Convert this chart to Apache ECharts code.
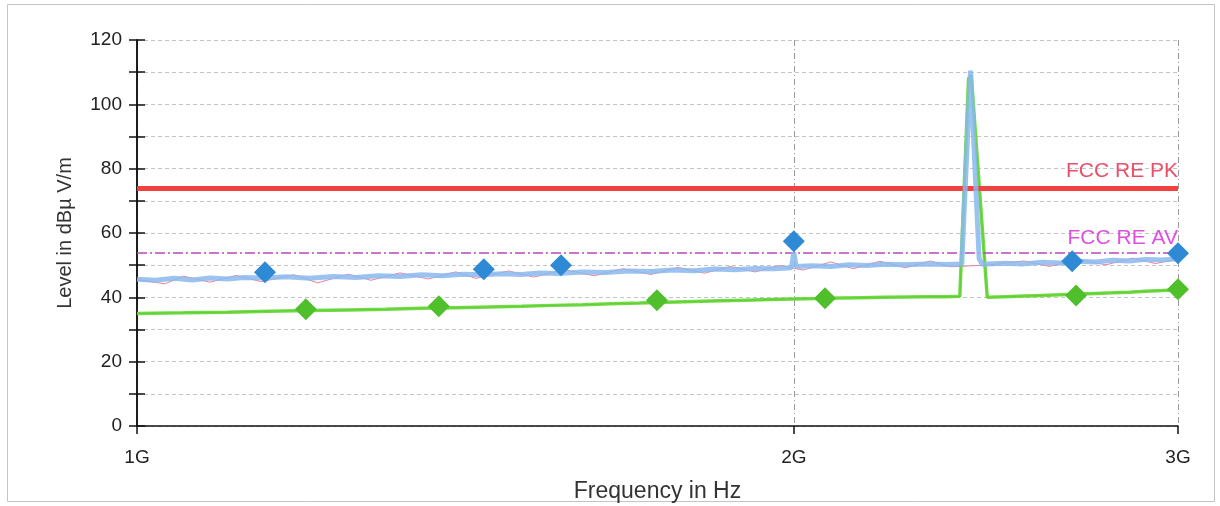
<!DOCTYPE html>
<html>
<head>
<meta charset="utf-8">
<script src="https://cdn.jsdelivr.net/npm/echarts@6/dist/echarts.min.js"></script>
<style>
html,body{margin:0;padding:0;background:#fff;}
#c{width:1220px;height:506px;}
</style>
</head>
<body>
<div id="c"></div>
<script>
// ---- data (frequency in GHz, level in dBµV/m) ----
const xTickGHz = [1, 2, 3];
const yMin = 0, yMax = 120, yStep = 10;

const peakFreq  = [1.000,1.020,1.040,1.060,1.080,1.100,1.120,1.145,1.170,1.200,1.230,1.260,1.290,1.320,1.350,1.380,1.410,1.440,1.470,1.500,1.530,1.560,1.600,1.640,1.680,1.720,1.760,1.800,1.840,1.880,1.920,1.960,1.995,2.000,2.005,2.040,2.080,2.120,2.160,2.200,2.250,2.300,2.350,2.388,2.410,2.432,2.440,2.500,2.550,2.600,2.650,2.700,2.750,2.800,2.850,2.900,2.950,3.000];
const peakLevel = [45.6,45.3,45.9,45.4,46.0,45.7,46.2,46.0,46.4,45.9,46.5,46.2,46.7,46.5,47.0,46.7,47.2,47.0,47.3,47.1,47.6,47.4,47.9,47.7,48.2,48.0,48.5,48.3,48.8,48.6,49.0,48.9,49.2,54.0,49.6,49.8,49.6,50.1,49.9,50.3,50.1,50.4,50.2,50.4,110.5,52.0,50.3,50.6,50.4,50.9,50.7,51.2,51.0,51.5,51.3,51.8,51.6,52.0];

const peak2Freq  = [1.000,1.030,1.050,1.080,1.110,1.140,1.180,1.210,1.250,1.280,1.320,1.360,1.400,1.430,1.480,1.520,1.570,1.620,1.670,1.720,1.770,1.820,1.870,1.920,1.970,2.020,2.080,2.130,2.190,2.250,2.310,2.360,2.450,2.550,2.620,2.700,2.780,2.860,2.930,3.000];
const peak2Level = [45.5,44.2,46.6,44.7,46.8,44.9,47.0,44.5,47.2,45.3,47.6,45.7,47.9,45.9,48.2,46.3,48.6,46.7,48.9,47.1,49.3,47.5,49.6,47.9,49.9,48.5,51.0,48.9,51.2,49.2,51.3,49.5,50.0,51.3,49.6,51.8,50.1,52.2,50.5,52.0];

const avgFreq  = [1.00,1.05,1.10,1.15,1.20,1.25,1.30,1.35,1.40,1.45,1.50,1.55,1.60,1.65,1.70,1.75,1.80,1.85,1.90,1.95,2.00,2.05,2.10,2.15,2.20,2.25,2.30,2.35,2.383,2.405,2.412,2.453,2.50,2.55,2.60,2.65,2.70,2.75,2.80,2.85,2.90,2.95,3.00];
const avgLevel = [35.0,35.2,35.4,35.7,35.9,36.1,36.3,36.6,36.8,37.0,37.2,37.5,37.7,38.0,38.2,38.5,38.7,38.9,39.1,39.3,39.5,39.6,39.8,39.9,40.0,40.1,40.2,40.2,40.3,108.0,109.0,40.0,40.2,40.4,40.6,40.8,41.0,41.2,41.4,41.6,41.9,42.1,42.3];

const pkMarkFreq  = [1.1446,1.442,1.5644,2.000,2.683,3.000];
const pkMarkLevel = [47.8,48.7,50.0,57.4,51.2,53.7];

const avMarkFreq  = [1.195,1.375,1.731,2.067,2.694,3.000];
const avMarkLevel = [36.3,37.2,39.1,39.7,40.6,42.5];

const limitPK = 74, limitAV = 54;
const limitPKName = 'FCC RE PK', limitAVName = 'FCC RE AV';
const xName = 'Frequency in Hz', yName = 'Level in dBµ V/m';

// ---- build ----
const G = 1e9;
const pairs = (f, v) => f.map((x, i) => [x * G, v[i]]);
const FONT = 'Liberation Sans, Arial, sans-serif';

const chart = echarts.init(document.getElementById('c'), null, {renderer: 'canvas'});
const gridRect = {left: 137, right: 42, top: 40, bottom: 80, containLabel: false, outerBoundsMode: 'none'};
const yAxisBase = {type: 'value', min: yMin, max: yMax, interval: yStep, position: 'left'};
const xAxisBase = {type: 'log', logBase: 10, min: 1 * G, max: 3 * G};

chart.setOption({
  animation: false,
  backgroundColor: '#fff',
  graphic: [{
    type: 'rect', shape: {x: 7.5, y: 4.5, width: 1207, height: 497},
    style: {fill: null, stroke: '#c4c4c4', lineWidth: 1}, z: -1
  }],
  grid: [Object.assign({}, gridRect), Object.assign({}, gridRect)],
  xAxis: [
    Object.assign({}, xAxisBase, {
      gridIndex: 0,
      name: xName, nameLocation: 'middle', nameGap: 54,
      nameTextStyle: {fontFamily: FONT, fontSize: 23, color: '#333'},
      axisLine: {lineStyle: {color: '#111', width: 1.5}},
      axisTick: {show: true, length: 8, customValues: xTickGHz.map(v => v * G), lineStyle: {color: '#111', width: 1.5}},
      axisLabel: {customValues: xTickGHz.map(v => v * G), formatter: v => Math.round(v / G) + 'G',
        fontFamily: FONT, fontSize: 19, color: '#222', margin: 22},
      splitLine: {show: true, lineStyle: {color: '#9a9a9a', width: 1, type: [6, 3, 1, 3]}},
      minorTick: {show: false}, minorSplitLine: {show: false}
    }),
    Object.assign({}, xAxisBase, {gridIndex: 1, show: false})
  ],
  yAxis: [
    Object.assign({}, yAxisBase, {
      gridIndex: 0,
      name: yName, nameLocation: 'middle', nameGap: 62,
      nameTextStyle: {fontFamily: FONT, fontSize: 20, color: '#333'},
      axisLine: {show: true, lineStyle: {color: '#111', width: 1.5}},
      axisTick: {show: true, length: 8, lineStyle: {color: '#111', width: 1.5}},
      axisLabel: {formatter: v => (v % 20 === 0 ? String(v) : ''), fontFamily: FONT, fontSize: 19, color: '#222', margin: 15},
      splitLine: {show: true, lineStyle: {color: '#c4c4c4', width: 1, type: [4, 3]}}
    }),
    Object.assign({}, yAxisBase, {
      gridIndex: 1,
      axisLine: {show: true, lineStyle: {color: '#111', width: 1.5}},
      axisTick: {show: true, inside: true, length: 8, lineStyle: {color: '#111', width: 1.5}},
      axisLabel: {show: false},
      splitLine: {show: false}
    })
  ],
  series: [
    {
      type: 'line', name: 'peak2', data: pairs(peak2Freq, peak2Level), showSymbol: false,
      lineStyle: {color: '#ec7f9a', width: 1}, z: 2, silent: true
    },
    {
      type: 'line', name: 'avgDark', data: pairs(avgFreq, avgLevel), showSymbol: false,
      lineStyle: {color: '#3c4a3c', width: 1.2}, z: 3, silent: true
    },
    {
      type: 'line', name: 'avg', data: pairs(avgFreq, avgLevel), showSymbol: false,
      lineStyle: {color: '#66d936', width: 3.5, opacity: 0.92}, z: 4, silent: true
    },
    {
      type: 'line', name: 'peak', data: pairs(peakFreq, peakLevel), showSymbol: false,
      lineStyle: {color: '#8ab8ee', width: 5, opacity: 0.85}, z: 5, silent: true
    },
    {
      type: 'line', name: 'limits', xAxisIndex: 1, yAxisIndex: 1, data: [[1 * G, limitPK]], showSymbol: false,
      lineStyle: {opacity: 0}, silent: true, z: 6,
      markLine: {
        silent: true, symbol: 'none', animation: false,
        data: [
          {yAxis: limitPK, name: limitPKName,
            lineStyle: {color: '#f2413f', width: 5, type: 'solid'},
            label: {show: true, formatter: limitPKName, position: 'insideEndTop', distance: [0, 6],
              color: '#e8506a', fontFamily: FONT, fontSize: 21}},
          {yAxis: limitAV, name: limitAVName,
            lineStyle: {color: '#b84ab8', width: 1.5, type: [10, 3, 2, 3]},
            label: {show: true, formatter: limitAVName, position: 'insideEndTop', distance: [0, 4],
              color: '#e04fe0', fontFamily: FONT, fontSize: 21}}
        ]
      }
    },
    {
      type: 'scatter', name: 'pkMarks', data: pairs(pkMarkFreq, pkMarkLevel),
      symbol: 'diamond', symbolSize: 22, itemStyle: {color: '#2f8ad6', opacity: 1}, z: 8, silent: true
    },
    {
      type: 'scatter', name: 'avMarks', data: pairs(avMarkFreq, avMarkLevel),
      symbol: 'diamond', symbolSize: 22, itemStyle: {color: '#4fbf2c', opacity: 1}, z: 8, silent: true
    }
  ]
});
</script>
</body>
</html>
